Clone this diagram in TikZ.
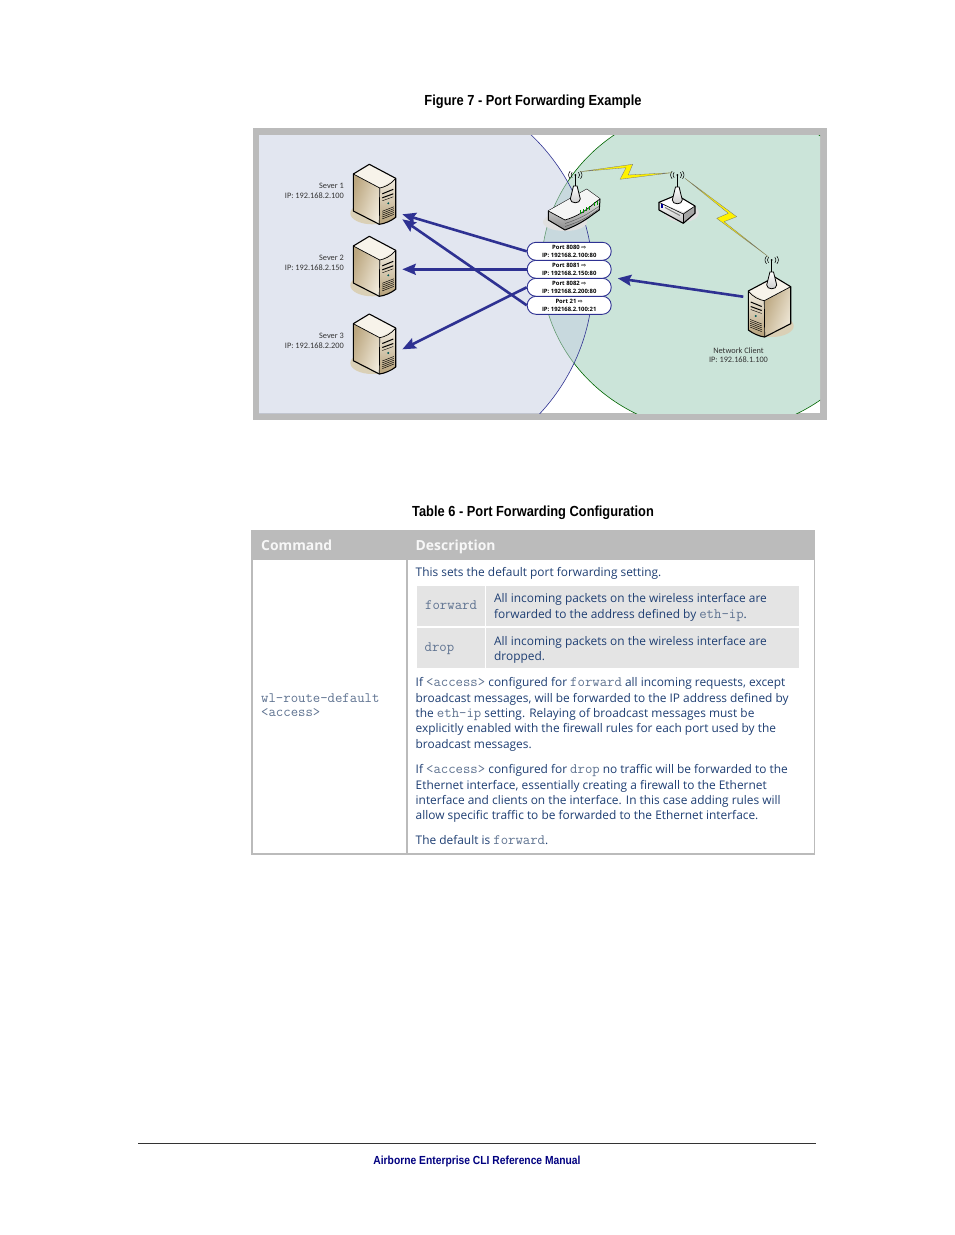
\documentclass[tikz,border=0pt]{standalone}
\usepackage{fontspec}
\usetikzlibrary{arrows.meta}
\setmainfont{Open Sans}
\newfontfamily\narrowf[FakeStretch=0.88]{Liberation Sans}
\newfontfamily\calf{Carlito}
\newfontfamily\symf{DejaVu Sans}
\definecolor{bodyblue}{HTML}{1F3F73}
\definecolor{monoblue}{HTML}{5F7391}
\definecolor{portblue}{HTML}{2E3192}
\definecolor{tablegrey}{HTML}{BBBBBB}
\definecolor{cellgrey}{HTML}{E4E4E4}
\definecolor{greenzone}{HTML}{CBE4D9}
\definecolor{bluezone}{HTML}{C7CFE3}
\definecolor{footblue}{HTML}{000080}
\definecolor{shadowtan}{HTML}{DAD0B6}
\definecolor{sideA}{HTML}{BBA67F}
\definecolor{sideB}{HTML}{F0E9D9}
\definecolor{frontA}{HTML}{F2EDE2}
\definecolor{frontB}{HTML}{B5A078}
\definecolor{topface}{HTML}{F7F3EA}
\definecolor{conegrey}{HTML}{C9C9C9}
\newcommand{\mono}[1]{{\ttfamily\fontsize{14.35}{15}\selectfont\color{monoblue}#1}}
\newcommand{\tl}[4]{\node[txt] (#1) at (#2,#3) {#4};}
\newcommand{\serverbox}{%
  \fill[shadowtan] (3,49) ellipse [x radius=22pt, y radius=11pt];
  \shade[left color=sideA, right color=sideB, shading angle=70]
    (-16,9.7) -- (10.4,23.7) -- (10,60) -- (-16,46.7) -- cycle;
  \shade[top color=frontA, bottom color=frontB]
    (10.4,23.7) -- (26.4,14) -- (26.4,53) .. controls (22,56.5) and (15,59.5) .. (10,60) -- cycle;
  \fill[topface] (0,0) -- (26.4,14) -- (10.4,23.7) -- (-16,9.7) -- cycle;
  \draw[srvline] (0,0) -- (26.4,14) -- (26.4,53) .. controls (22,56.5) and (15,59.5) .. (10,60) -- (-16,46.7) -- (-16,9.7) -- cycle;
  \draw[line width=.7pt] (-16,9.7) -- (10.4,23.7) -- (10,60);
  \draw[line width=.7pt] (10.4,23.7) .. controls (15,23) and (22,20) .. (26.4,14);
  \draw[line width=1pt] (13,29.5) -- (24,25);
  \draw[line width=1pt] (13,33.5) -- (24,29.5);
  \draw[line width=.4pt] (13,36.5) -- (24,32.5);
  \fill[teal!70!black] (19,39) circle [radius=1.1pt];
  \foreach \k in {0,1.9,3.8,5.7,7.6}{\draw[line width=.45pt] (13,{47+\k}) -- (24.5,{42.5+\k});}
}
\newcommand{\aerial}[3]{%
  \begin{scope}[shift={(#1,#2)}]
    \foreach \s in {-1,1}{
      \draw[line width=.55pt] ({\s*3.2},-2.8) .. controls ({\s*4.6},-1) and ({\s*4.6},1) .. ({\s*3.2},2.8);
      \draw[line width=.55pt] ({\s*5.2},-3.8) .. controls ({\s*7.2},-1) and ({\s*7.2},1) .. ({\s*5.2},3.8);
    }
    \fill (0,0) circle [radius=1pt];
    \draw[line width=1.1pt] (0,0) -- (0,#3);
    \shade[top color=white, bottom color=conegrey, draw=black, line width=.8pt]
      (-1.8,#3) -- (1.8,#3) -- (5,{#3+13}) .. controls (5,{#3+18}) and (-5,{#3+18}) .. (-5,{#3+13}) -- cycle;
  \end{scope}
}
\tikzset{
  txt/.style={anchor=base west, inner sep=0pt, text=bodyblue, font=\fontsize{11.9}{14}\selectfont},
  srvlabel/.style={anchor=base east, inner sep=0pt, text=black!80, align=right, font=\calf\fontsize{8.3}{10}\selectfont},
  capt/.style={anchor=base, inner sep=0pt, font=\narrowf\bfseries\fontsize{14.6}{16}\selectfont},
  pill/.style={draw=portblue, line width=.9pt, fill=white, rounded corners=8.8pt, minimum width=84pt, minimum height=18pt, inner sep=0pt, align=center, font=\bfseries\fontsize{5.9}{7.9}\selectfont},
  flow/.style={draw=portblue, line width=2.6pt, -{Stealth[length=13.5pt,width=11pt,inset=2pt]}},
  srvline/.style={draw=black, line width=1.1pt, line join=round},
  bolt/.style={fill=yellow, draw=black!55, line width=.3pt, line join=round},
  hdr/.style={anchor=base west, inner sep=0pt, text=white!97!black, font=\bfseries\fontsize{13.9}{16}\selectfont},
}
\begin{document}
\begin{tikzpicture}[x=1pt,y=-1pt]
\useasboundingbox (0,0) rectangle (954,1235);
\fill[white] (0,0) rectangle (954,1235);
% captions
\node[capt] (figcap) at (533,105) {Figure 7 - Port Forwarding Example};
\node[capt] (tabcap) at (533,516) {Table 6 - Port Forwarding Configuration};
% figure frame
\fill[tablegrey] (253,128) rectangle (827,420);
\fill[white] (259,135) rectangle (820,413);
\begin{scope}
  \clip (259,135) rectangle (820,413);
  \fill[greenzone] (716.5,268) ellipse [x radius=175pt, y radius=164pt];
  \draw[green!40!black,line width=.6pt] (716.5,268) ellipse [x radius=175pt, y radius=164pt];
  \fill[bluezone,fill opacity=.5] (390,278.7) ellipse [x radius=203pt, y radius=200pt];
  \draw[portblue,line width=.6pt] (390,278.7) ellipse [x radius=203pt, y radius=200pt];
\end{scope}
% servers
\begin{scope}[shift={(369.3,164.3)}]\serverbox\end{scope}
\begin{scope}[shift={(369.3,236.3)}]\serverbox\end{scope}
\begin{scope}[shift={(369.3,314)}]\serverbox\end{scope}
\begin{scope}[shift={(774.7,277)},xscale=-1]\serverbox\end{scope}
\node[srvlabel] (s1t) at (344,188) {Sever 1};
\node[srvlabel] (s1i) at (344,198) {IP: 192.168.2.100};
\node[srvlabel] (s2t) at (344,260) {Sever 2};
\node[srvlabel] (s2i) at (344,270) {IP: 192.168.2.150};
\node[srvlabel] (s3t) at (344,338) {Sever 3};
\node[srvlabel] (s3i) at (344,348) {IP: 192.168.2.200};
\node[srvlabel,anchor=base] (ct) at (738.5,353) {Network Client};
\node[srvlabel,anchor=base] (ci) at (738.5,362) {IP: 192.168.1.100};
% router 1
\fill[black!12] (565,222) ellipse [x radius=22pt, y radius=9pt];
\shade[top color=white, bottom color=black!45, draw=black, line width=1pt, line join=round]
  (548.3,211) -- (586.7,189.3) -- (600,199) -- (599.3,210) .. controls (590,216) and (585,222) .. (565,230) -- (548.3,220) -- cycle;
\fill[white!96!black] (548.3,211) -- (586.7,189.3) -- (600,199) .. controls (592,204) and (585,214) .. (565,220) -- cycle;
\draw[line width=.7pt] (548.3,211) -- (565,220) .. controls (585,214) and (592,204) .. (600,199);
\draw[line width=.35pt,black!70] (565,223.5) .. controls (585,217) and (590,212) .. (599.5,206);
\draw[line width=.35pt,black!70] (565,226.5) .. controls (585,220) and (590,215) .. (599.5,208.5);
\foreach \a/\b in {580/214,583/212.5,586/211,589/209.5,594/206,597/204.5}{\draw[green!60!black,line width=.7pt] (\a,\b) -- (\a,\b-4);}
% router 2
\fill[black!12] (682,213) ellipse [x radius=17pt, y radius=9pt];
\fill[white] (659,202.3) -- (676.7,195) -- (695,206) -- (683.3,212) -- cycle;
\shade[top color=white, bottom color=black!25] (659,202.3) -- (683.3,214) -- (683.3,223.3) -- (659,210) -- cycle;
\fill[black!35] (683.3,214) -- (695,206) -- (695,213.3) -- (683.3,223.3) -- cycle;
\draw[srvline] (659,202.3) -- (676.7,195) -- (695,206) -- (695,213.3) -- (683.3,223.3) -- (659,210) -- cycle;
\draw[line width=.6pt] (659,202.3) -- (683.3,214) -- (695,206);
\draw[line width=.6pt] (683.3,214) -- (683.3,223.3);
\fill[blue!60!black] (661,204) rectangle (663,208);
\draw[black!50,line width=1pt] (665,207.5) -- (680,215.5);
% antennas
\aerial{575.3}{175}{11}
\aerial{677.3}{175}{12}
\aerial{771.7}{260}{12}
% lightning
\draw[bolt] (580,171.7) -- (632.7,164.3) -- (628.3,175) -- (671.7,172.7) -- (620,179.3) -- (626,167.7) -- cycle;
\draw[bolt] (685,178.3) -- (736.7,216.7) -- (724,221.7) -- (768.3,256.7) -- (716.7,218.3) -- (728.3,213.3) -- cycle;
% flow targets
\coordinate (s1a) at (402.3,214.3);
\coordinate (s1b) at (402.3,219.3);
\coordinate (s2a) at (402.3,269.3);
\coordinate (s3a) at (402.3,349.3);
\coordinate (clientout) at (743.3,296.7);
\coordinate (gatein) at (617.7,278.3);
% ports
\node[pill] (p4) at (569.2,305.3) {Port 21 {\symf ⇨}\\IP: 192168.2.100:21};
\node[pill] (p3) at (569.2,287.3) {Port 8082 {\symf ⇨}\\IP: 192168.2.200:80};
\node[pill] (p2) at (569.2,269.3) {Port 8081 {\symf ⇨}\\IP: 192168.2.150:80};
\node[pill] (p1) at (569.2,251.3) {Port 8080 {\symf ⇨}\\IP: 192168.2.100:80};
\draw[flow] (p4.west) -- (s1b);
\draw[flow] (p1.west) -- (s1a);
\draw[flow] (p2.west) -- (s2a);
\draw[flow] (p3.west) -- (s3a);
\draw[flow] (clientout) -- (gatein);
% table
\fill[tablegrey] (251,530) rectangle (815,559.5);
\fill[tablegrey] (251,559) rectangle (253,855);
\fill[tablegrey] (406,559) rectangle (408,855);
\fill[tablegrey] (813.5,559) rectangle (815,855);
\fill[tablegrey] (251,853) rectangle (815,855);
\node[hdr] (hc) at (261,550) {Command};
\node[hdr] (hd) at (415.5,550) {Description};
\fill[cellgrey] (417,586) rectangle (484.5,626);
\fill[cellgrey] (486,586) rectangle (799,626);
\fill[cellgrey] (417,628) rectangle (484.5,668);
\fill[cellgrey] (486,628) rectangle (799,668);
\tl{c1}{261}{702}{\mono{wl-route-default}}
\tl{c2}{261}{716}{\mono{<access>}}
\tl{l1}{415.5}{576}{This sets the default port forwarding setting.}
\tl{m1}{425}{609}{\mono{forward}}
\tl{m2}{424.5}{651}{\mono{drop}}
\tl{d1}{494}{602}{All incoming packets on the wireless interface are}
\tl{d2}{494}{618}{forwarded to the address defined by \mono{eth-ip}.}
\tl{d3}{494}{645}{All incoming packets on the wireless interface are}
\tl{d4}{494}{660}{dropped.}
\tl{a1}{415.5}{686}{If \mono{<access>} configured for \mono{forward} all incoming requests, except}
\tl{a2}{415.5}{702}{broadcast messages, will be forwarded to the IP address defined by}
\tl{a3}{415.5}{717}{the \mono{eth-ip} setting. Relaying of broadcast messages must be}
\tl{a4}{415.5}{732}{explicitly enabled with the firewall rules for each port used by the}
\tl{a5}{415.5}{748}{broadcast messages.}
\tl{b1}{415.5}{773}{If \mono{<access>} configured for \mono{drop} no traffic will be forwarded to the}
\tl{b2}{415.5}{789}{Ethernet interface, essentially creating a firewall to the Ethernet}
\tl{b3}{415.5}{804}{interface and clients on the interface. In this case adding rules will}
\tl{b4}{415.5}{819}{allow specific traffic to be forwarded to the Ethernet interface.}
\tl{e1}{415.5}{844}{The default is \mono{forward}.}
% footer
\draw[black!80,line width=.6pt] (138,1143.5) -- (816,1143.5);
\node[capt,text=footblue,font=\narrowf\bfseries\fontsize{11.7}{14}\selectfont] (foot) at (477,1164) {Airborne Enterprise CLI Reference Manual};
\end{tikzpicture}
\end{document}
